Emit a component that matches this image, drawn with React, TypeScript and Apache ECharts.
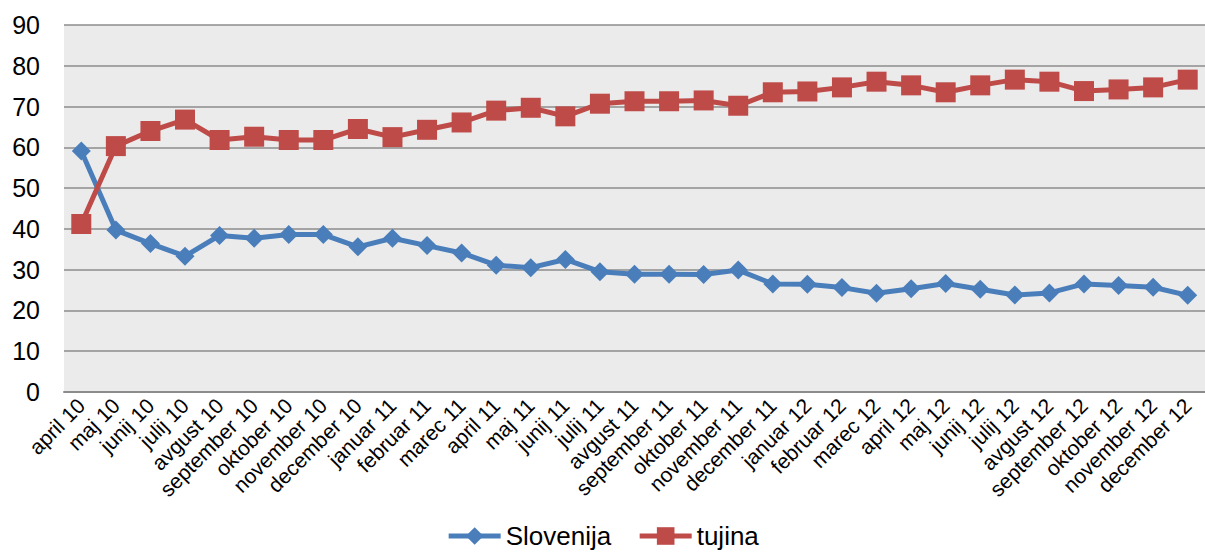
import React, { useEffect, useRef } from "react";
import * as echarts from "echarts";

const categories = [
  "april 10", "maj 10", "junij 10", "julij 10", "avgust 10", "september 10", "oktober 10", "november 10", "december 10",
  "januar 11", "februar 11", "marec 11", "april 11", "maj 11", "junij 11", "julij 11", "avgust 11", "september 11", "oktober 11", "november 11", "december 11",
  "januar 12", "februar 12", "marec 12", "april 12", "maj 12", "junij 12", "julij 12", "avgust 12", "september 12", "oktober 12", "november 12", "december 12",
];

const slovenija = [
  59.1, 39.7, 36.4, 33.3, 38.4, 37.7, 38.6, 38.6, 35.6,
  37.7, 35.9, 34.1, 31.1, 30.5, 32.5, 29.5, 28.9, 28.9, 28.8, 29.9, 26.5,
  26.4, 25.6, 24.2, 25.3, 26.6, 25.2, 23.8, 24.3, 26.5, 26.1, 25.7, 23.7,
];

const tujina = [
  41.2, 60.3, 64.0, 66.8, 61.8, 62.6, 61.8, 61.8, 64.5,
  62.5, 64.3, 66.1, 69.0, 69.7, 67.6, 70.7, 71.3, 71.3, 71.5, 70.2, 73.5,
  73.7, 74.7, 76.1, 75.2, 73.5, 75.2, 76.6, 76.1, 73.8, 74.2, 74.7, 76.6,
];

const seriesNames = ["Slovenija", "tujina"];

const FONT = "'Liberation Sans', Arial, sans-serif";

export default function App() {
  const ref = useRef<HTMLDivElement>(null);

  useEffect(() => {
    if (!ref.current) return;
    const chart = echarts.init(ref.current, undefined, { renderer: "svg" });
    chart.setOption({
      animation: false,
      backgroundColor: "#ffffff",
      textStyle: { fontFamily: FONT },
      grid: {
        left: 64,
        right: 0,
        top: 25,
        height: 367,
        show: true,
        backgroundColor: "#ebebeb",
        borderWidth: 0,
      },
      legend: {
        data: seriesNames,
        top: 518,
        left: "center",
        itemWidth: 52,
        itemHeight: 22,
        itemGap: 26,
        lineStyle: { width: 5 },
        textStyle: { fontSize: 26, color: "#000", fontFamily: FONT },
      },
      xAxis: {
        type: "category",
        data: categories,
        boundaryGap: true,
        axisLine: { show: true, lineStyle: { color: "#8c8c8c", width: 2 } },
        axisTick: { show: false },
        axisLabel: {
          rotate: 45,
          interval: 0,
          fontSize: 21,
          color: "#000",
          margin: 10,
          fontFamily: FONT,
        },
        splitLine: { show: false },
      },
      yAxis: {
        type: "value",
        min: 0,
        max: 90,
        interval: 10,
        axisLine: { show: false },
        axisTick: { show: false },
        axisLabel: { fontSize: 25, color: "#000", margin: 24, fontFamily: FONT },
        splitLine: { show: true, lineStyle: { color: "#8c8c8c", width: 1.5 } },
      },
      series: [
        {
          name: seriesNames[0],
          type: "line",
          data: slovenija,
          symbol: "diamond",
          symbolSize: 19,
          itemStyle: { color: "#4a7ebb" },
          lineStyle: { color: "#4a7ebb", width: 5 },
        },
        {
          name: seriesNames[1],
          type: "line",
          data: tujina,
          symbol: "rect",
          symbolSize: 20,
          itemStyle: { color: "#be4b48" },
          lineStyle: { color: "#be4b48", width: 5 },
        },
      ],
    });
    return () => chart.dispose();
  }, []);

  return (
    <div
      ref={ref}
      style={{ position: "fixed", left: 0, top: 0, width: 1205, height: 553 }}
    />
  );
}
